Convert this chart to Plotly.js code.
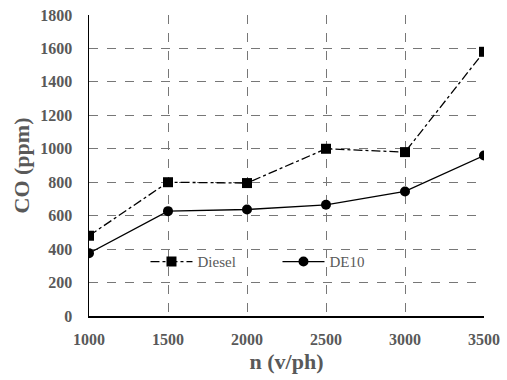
<!DOCTYPE html>
<html>
<head>
<meta charset="utf-8">
<script src="https://cdn.plot.ly/plotly-3.0.1.min.js"></script>
<style>html,body{margin:0;padding:0;background:#fff}#chart{width:507px;height:380px}</style>
</head>
<body>
<div id="chart"></div>
<script>
const speeds = [1000, 1500, 2000, 2500, 3000, 3500];
const diesel = [480, 800, 795, 1000, 980, 1580];
const de10 = [375, 627, 637, 665, 745, 960];
const xTicks = [1000, 1500, 2000, 2500, 3000, 3500];
const yTicks = [0, 200, 400, 600, 800, 1000, 1200, 1400, 1600, 1800];

const traces = [
  {x: speeds, y: diesel, name: 'Diesel', type: 'scatter', mode: 'lines+markers',
   line: {color: '#000', width: 1.3, dash: 'dashdot'},
   marker: {symbol: 'square', size: 10, color: '#000'}},
  {x: speeds, y: de10, name: 'DE10', type: 'scatter', mode: 'lines+markers',
   line: {color: '#000', width: 1.3},
   marker: {symbol: 'circle', size: 10, color: '#000'}}
];
const SERIF = 'Liberation Serif';
const layout = {
  width: 507, height: 380,
  font: {family: SERIF, size: 15, color: '#595959'},
  margin: {l: 89, r: 23, t: 15, b: 64},
  paper_bgcolor: '#fff', plot_bgcolor: '#fff',
  showlegend: true,
  legend: {orientation: 'h', x: 0.143, y: 0.18, xanchor: 'left', yanchor: 'middle',
    bgcolor: 'rgba(0,0,0,0)', font: {family: SERIF, size: 15, color: '#595959'},
    itemwidth: 42, entrywidth: 75, tracegroupgap: 0},
  xaxis: {range: [1000, 3500], tickvals: xTicks, ticktext: xTicks.map(String),
    showgrid: true, gridcolor: '#777', griddash: 'dash', gridwidth: 1,
    showline: true, linecolor: '#000', linewidth: 1.5, zeroline: false,
    ticks: 'outside', ticklen: 8, tickcolor: 'rgba(0,0,0,0)',
    tickfont: {family: SERIF, size: 16, color: '#595959', weight: 700},
    title: {text: 'n (v/ph)', font: {family: SERIF, size: 22, color: '#595959', weight: 700}, standoff: 7}},
  yaxis: {range: [0, 1800], tickvals: yTicks, ticktext: yTicks.map(String),
    showgrid: true, gridcolor: '#777', griddash: 'dash', gridwidth: 1,
    showline: true, linecolor: '#000', linewidth: 1.5, zeroline: false,
    ticks: 'outside', ticklen: 12, tickcolor: 'rgba(0,0,0,0)',
    tickfont: {family: SERIF, size: 16, color: '#595959', weight: 700},
    title: {text: 'CO (ppm)', font: {family: SERIF, size: 22, color: '#595959', weight: 700}, standoff: 4}}
};
Plotly.newPlot('chart', traces, layout, {displayModeBar: false, staticPlot: true});
</script>
</body>
</html>
